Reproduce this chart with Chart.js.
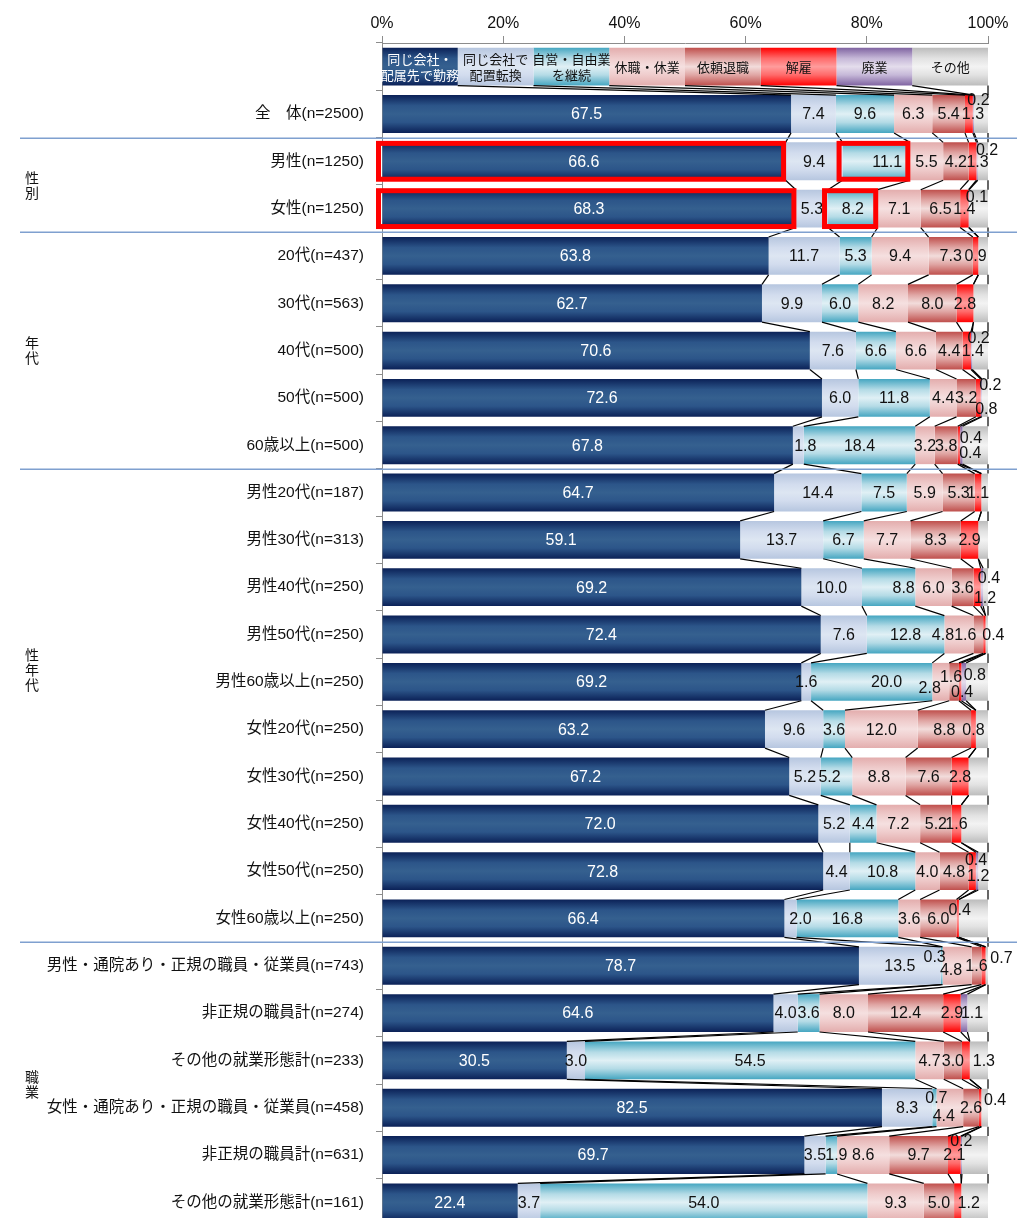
<!DOCTYPE html>
<html lang="ja">
<head>
<meta charset="utf-8">
<title>病気の診断後の就労状況</title>
<script src="https://cdn.jsdelivr.net/npm/chart.js@4.4.1/dist/chart.umd.min.js"></script>
<style>
  html, body { margin: 0; padding: 0; background: #fff; overflow: hidden; }
  #frame { position: relative; width: 1017px; height: 1218px; overflow: hidden; }
  #chart { display: block; }
</style>
</head>
<body>
<div id="frame"><canvas id="chart" width="1017" height="1229" style="width:1017px;height:1229px"></canvas></div>
<script>
// Row labels; the first (blank) row is the key bar that names each segment.
const categories = [
  '',
  '全\u3000体(n=2500)',
  '男性(n=1250)', '女性(n=1250)',
  '20代(n=437)', '30代(n=563)', '40代(n=500)', '50代(n=500)', '60歳以上(n=500)',
  '男性20代(n=187)', '男性30代(n=313)', '男性40代(n=250)', '男性50代(n=250)', '男性60歳以上(n=250)',
  '女性20代(n=250)', '女性30代(n=250)', '女性40代(n=250)', '女性50代(n=250)', '女性60歳以上(n=250)',
  '男性・通院あり・正規の職員・従業員(n=743)', '非正規の職員計(n=274)', 'その他の就業形態計(n=233)',
  '女性・通院あり・正規の職員・従業員(n=458)', '非正規の職員計(n=631)', 'その他の就業形態計(n=161)'
];

const seriesNames = [
  '同じ会社・\n配属先で勤務', '同じ会社で\n配置転換', '自営・自由業\nを継続', '休職・休業',
  '依頼退職', '解雇', '廃業', 'その他'
];

// Shares (%) per row; the key bar uses equal 12.5 shares.
const sameWorkplace = [12.5, 67.5, 66.6, 68.3, 63.8, 62.7, 70.6, 72.6, 67.8, 64.7, 59.1, 69.2, 72.4, 69.2, 63.2, 67.2, 72.0, 72.8, 66.4, 78.7, 64.6, 30.5, 82.5, 69.7, 22.4];
const reassigned    = [12.5, 7.4, 9.4, 5.3, 11.7, 9.9, 7.6, 6.0, 1.8, 14.4, 13.7, 10.0, 7.6, 1.6, 9.6, 5.2, 5.2, 4.4, 2.0, 13.5, 4.0, 3.0, 8.3, 3.5, 3.7];
const selfEmployed  = [12.5, 9.6, 11.1, 8.2, 5.3, 6.0, 6.6, 11.8, 18.4, 7.5, 6.7, 8.8, 12.8, 20.0, 3.6, 5.2, 4.4, 10.8, 16.8, 0.3, 3.6, 54.5, 0.7, 1.9, 54.0];
const onLeave       = [12.5, 6.3, 5.5, 7.1, 9.4, 8.2, 6.6, 4.4, 3.2, 5.9, 7.7, 6.0, 4.8, 2.8, 12.0, 8.8, 7.2, 4.0, 3.6, 4.8, 8.0, 4.7, 4.4, 8.6, 9.3];
const resigned      = [12.5, 5.4, 4.2, 6.5, 7.3, 8.0, 4.4, 3.2, 3.8, 5.3, 8.3, 3.6, 1.6, 1.6, 8.8, 7.6, 5.2, 4.8, 6.0, 1.6, 12.4, 3.0, 2.6, 9.7, 5.0];
const dismissed     = [12.5, 1.3, 1.3, 1.4, 0.9, 2.8, 1.4, 0.8, 0.4, 1.1, 2.9, 1.2, 0.4, 0.4, 0.8, 2.8, 1.6, 1.2, 0.4, 0.7, 2.9, 1.3, 0.4, 2.1, 1.2];
const closedDown    = [12.5, 0.2, 0.2, 0.1, null, null, 0.2, 0.2, 0.4, null, null, 0.4, null, 0.8, null, null, null, 0.4, null, null, 1.1, null, null, 0.2, null];
const otherOutcome  = [12.5, 2.3, 1.7, 3.1, 1.6, 2.4, 2.6, 1.0, 4.2, 1.1, 1.6, 0.8, 0.4, 3.6, 2.0, 3.2, 4.4, 1.6, 4.8, 0.4, 3.4, 3.0, 1.1, 4.3, 4.4];

const series = [sameWorkplace, reassigned, selfEmployed, onLeave, resigned, dismissed, closedDown, otherOutcome];

// Vertical gradient per segment colour: [edge, shoulder, centre]
const fills = [
  ['#0b2157', '#2c5589', '#35608f'],
  ['#b6c6df', '#d2dcee', '#dde6f2'],
  ['#45a6c1', '#b4dbe6', '#e0f0f5'],
  ['#e3adad', '#efcccc', '#f5e0e0'],
  ['#bf4f4c', '#e0a6a4', '#f2dcdb'],
  ['#ff0000', '#ff6a6a', '#ff9c9c'],
  ['#7f63a1', '#c6b8d8', '#e4ddec'],
  ['#bcbcbc', '#e2e2e2', '#f3f3f3']
];

// Group captions at the left edge, anchored at a row position.
const groupCaptions = [
  { text: '性別', row: 2.5 },
  { text: '年代', row: 6 },
  { text: '性年代', row: 12.75 },
  { text: '職業', row: 21.5 }
];
// Rows after which a section rule is drawn.
const sectionBreaks = [1, 3, 8, 18];
// Segments framed in red: [row, series]
const highlights = [[2, 0], [2, 2], [3, 0], [3, 2]];
// Hand placement of crowded value labels: 'row,series' -> [dx, dy]
const labelNudge = {
  '1,5': [4, 0], '1,6': [5, -14],
  '2,2': [11, 0], '2,5': [5, 0], '2,6': [10, -12],
  '3,6': [8, -12],
  '6,5': [6, 0], '6,6': [7, -13],
  '7,5': [8, 11], '7,6': [9, -13],
  '8,1': [7, 0], '8,5': [12, -8], '8,6': [9, 7],
  '11,2': [15, 0], '11,5': [8, 10], '11,6': [7, -10],
  '12,3': [-16, 0], '12,4': [-13, 0], '12,5': [9, 0],
  '13,2': [15, 0], '13,3': [-11, 6], '13,4': [-3, -5], '13,5': [2, 10], '13,6': [11, -7],
  '15,2': [-7, 0],
  '17,5': [6, 4], '17,6': [-1, -12],
  '18,1': [10, 0], '18,5': [2, -9],
  '19,2': [-7, -9], '19,3': [-6, 4], '19,5': [18, -8],
  '20,6': [8, 0],
  '21,5': [18, 0],
  '22,2': [2, -10], '22,3': [-6, 8], '22,5': [15, -8],
  '23,2': [5, 0], '23,6': [0, -14],
  '24,5': [11, 0]
};

const LATIN = '"Liberation Sans", Arial, "Noto Sans CJK JP", sans-serif';
const CJK = '"Noto Sans CJK JP", "Liberation Sans", sans-serif';
const BAR_PCT = 0.8;

function segmentFill(stops) {
  return (c) => {
    const chart = c.chart;
    const ys = chart.scales && chart.scales.y;
    if (!ys || c.dataIndex === undefined) return stops[1];
    const band = Math.abs(ys.getPixelForValue(1) - ys.getPixelForValue(0));
    const mid = ys.getPixelForValue(c.dataIndex);
    const h = band * BAR_PCT;
    if (!isFinite(mid) || !isFinite(h) || h <= 0) return stops[1];
    const g = chart.ctx.createLinearGradient(0, mid - h / 2, 0, mid + h / 2);
    g.addColorStop(0, stops[0]);
    g.addColorStop(0.28, stops[1]);
    g.addColorStop(0.5, stops[2]);
    g.addColorStop(0.72, stops[1]);
    g.addColorStop(1, stops[0]);
    return g;
  };
}

function cumulative() {
  return categories.map((_, i) => {
    let s = 0;
    return series.map(arr => (s += (arr[i] == null ? 0 : arr[i])));
  });
}

const overlay = {
  id: 'overlay',
  afterDatasetsDraw(chart) {
    const { ctx, chartArea, scales: { x, y } } = chart;
    const band = Math.abs(y.getPixelForValue(1) - y.getPixelForValue(0));
    const barH = band * BAR_PCT;
    const cum = cumulative();

    // series connector lines between neighbouring bars
    ctx.save();
    ctx.strokeStyle = '#000';
    ctx.lineWidth = 1.2;
    for (let i = 0; i < categories.length - 1; i++) {
      const yb = y.getPixelForValue(i) + barH / 2;
      const yt = y.getPixelForValue(i + 1) - barH / 2;
      for (let k = 0; k < series.length; k++) {
        ctx.beginPath();
        ctx.moveTo(x.getPixelForValue(cum[i][k]), yb);
        ctx.lineTo(x.getPixelForValue(cum[i + 1][k]), yt);
        ctx.stroke();
      }
    }
    ctx.restore();

    // key bar captions
    ctx.save();
    ctx.beginPath();
    ctx.rect(chartArea.left, chartArea.top, chartArea.right - chartArea.left, chartArea.bottom - chartArea.top);
    ctx.clip();
    ctx.font = '13px ' + CJK;
    ctx.textAlign = 'center';
    ctx.textBaseline = 'middle';
    const y0 = y.getPixelForValue(0);
    series.forEach((arr, k) => {
      const start = k === 0 ? 0 : cum[0][k - 1];
      const cx = x.getPixelForValue(start + arr[0] / 2);
      const lines = seriesNames[k].split('\n');
      ctx.fillStyle = k === 0 ? '#fff' : '#111';
      lines.forEach((ln, j) => {
        ctx.fillText(ln, cx, y0 + (j - (lines.length - 1) / 2) * 16);
      });
    });
    ctx.restore();

    // value labels (the その他 share is left unlabelled)
    ctx.save();
    ctx.font = '16px ' + LATIN;
    ctx.textAlign = 'center';
    ctx.textBaseline = 'middle';
    for (let k = 0; k < series.length - 1; k++) {
      for (let i = 1; i < categories.length; i++) {
        const v = series[k][i];
        if (v == null) continue;
        const start = k === 0 ? 0 : cum[i][k - 1];
        const nd = labelNudge[i + ',' + k] || [0, 0];
        const cx = x.getPixelForValue(start + v / 2) + nd[0];
        const cy = y.getPixelForValue(i) + 1 + nd[1];
        ctx.fillStyle = k === 0 ? '#fff' : '#111';
        ctx.fillText(v.toFixed(1), cx, cy);
      }
    }
    ctx.restore();

    // red frames
    ctx.save();
    ctx.strokeStyle = '#ff0000';
    ctx.lineWidth = 5;
    highlights.forEach(([i, k]) => {
      const start = k === 0 ? 0 : cum[i][k - 1];
      const x0 = x.getPixelForValue(start) - 3.5;
      const x1 = x.getPixelForValue(cum[i][k]) - 2;
      const yc = y.getPixelForValue(i);
      ctx.strokeRect(x0, yc - barH / 2 + 1, x1 - x0, barH - 2);
    });
    ctx.restore();
  },
  afterDraw(chart) {
    const { ctx, scales: { y } } = chart;
    const band = Math.abs(y.getPixelForValue(1) - y.getPixelForValue(0));
    ctx.save();
    // section rules
    ctx.strokeStyle = '#7fa0cf';
    ctx.lineWidth = 1.5;
    sectionBreaks.forEach(r => {
      const yy = Math.round(y.getPixelForValue(r) + band / 2) + 0.25;
      ctx.beginPath();
      ctx.moveTo(20, yy);
      ctx.lineTo(1017, yy);
      ctx.stroke();
    });
    // group captions, stacked vertically
    ctx.fillStyle = '#111';
    ctx.font = '14px ' + CJK;
    ctx.textAlign = 'center';
    ctx.textBaseline = 'middle';
    groupCaptions.forEach(g => {
      const chars = Array.from(g.text);
      const yc = y.getPixelForValue(0) + g.row * band;
      chars.forEach((ch, j) => {
        ctx.fillText(ch, 32, yc + (j - (chars.length - 1) / 2) * 15);
      });
    });
    ctx.restore();
  }
};

new Chart(document.getElementById('chart'), {
  type: 'bar',
  data: {
    labels: categories,
    datasets: series.map((arr, k) => ({
      label: seriesNames[k].replace('\n', ''),
      data: arr,
      backgroundColor: segmentFill(fills[k]),
      borderWidth: 0,
      barPercentage: BAR_PCT,
      categoryPercentage: 1.0,
      stack: 'share'
    }))
  },
  options: {
    indexAxis: 'y',
    responsive: false,
    animation: false,
    events: [],
    layout: { padding: { left: 0, right: 29, top: 0, bottom: 3 } },
    plugins: { legend: { display: false }, tooltip: { enabled: false } },
    scales: {
      x: {
        position: 'top',
        stacked: true,
        min: 0,
        max: 100,
        afterFit: s => { s.height = 43; },
        ticks: {
          stepSize: 20,
          callback: v => v + '%',
          font: { family: LATIN, size: 16 },
          color: '#111',
          padding: 3,
          maxRotation: 0
        },
        grid: { drawOnChartArea: false, drawTicks: true, tickLength: 7, color: '#8c8c8c' },
        border: { display: true, color: '#8c8c8c', width: 1 }
      },
      y: {
        stacked: true,
        afterFit: s => { s.width = 382; s.paddingTop = 0; s.paddingBottom = 0; },
        ticks: {
          autoSkip: false,
          font: { family: LATIN, size: 15.5 },
          color: '#111',
          padding: 12
        },
        grid: { offset: true, drawOnChartArea: false, drawTicks: true, tickLength: 6, color: '#8c8c8c' },
        border: { display: true, color: '#8c8c8c', width: 1 }
      }
    }
  },
  plugins: [overlay]
});
</script>
</body>
</html>
